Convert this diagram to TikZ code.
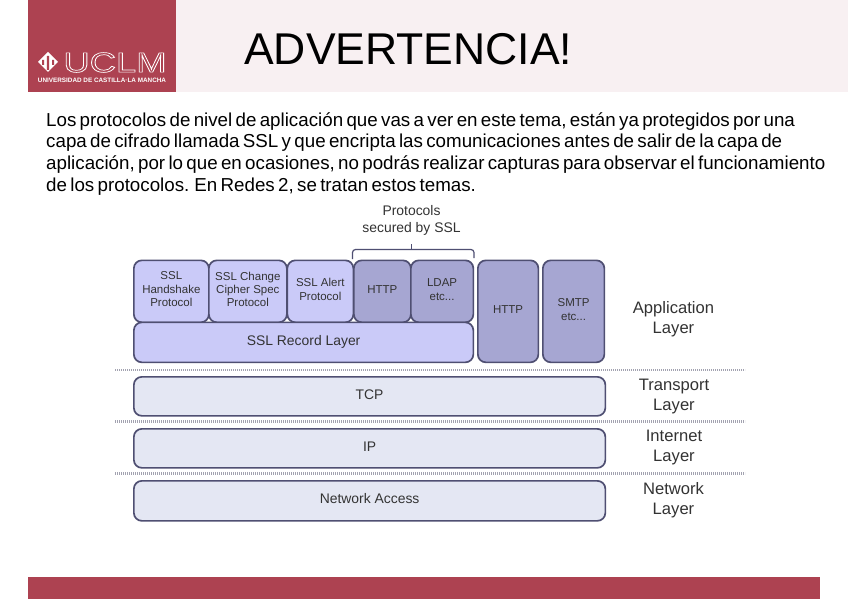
\documentclass[tikz,border=0pt]{standalone}
\usepackage{fontspec}
\usepackage{graphicx}
\setmainfont{Liberation Sans}
\definecolor{uclm}{HTML}{AD4251}
\definecolor{headbg}{HTML}{F8F0F2}
\definecolor{lightb}{HTML}{CACAF8}
\definecolor{darkb}{HTML}{A6A6D2}
\definecolor{paleb}{HTML}{E4E7F3}
\definecolor{edgeb}{HTML}{4F4F72}
\definecolor{dtxt}{HTML}{333333}
\definecolor{dotc}{HTML}{A2A2B0}
\tikzset{
 boxbase/.style={draw=edgeb,line width=1.7pt,rounded corners=8pt,text=dtxt,align=center,inner sep=0pt,font=\fontsize{11.5}{13.4}\selectfont,anchor=north west,text depth=4pt},
 sslbox/.style={boxbase,fill=lightb},
 appbox/.style={boxbase,fill=darkb},
 lowbox/.style={boxbase,fill=paleb},
 bigtxt/.style={font=\fontsize{13.9}{16}\selectfont},
 layerlabel/.style={text=dtxt,align=center,font=\fontsize{16.6}{20}\selectfont,inner sep=0pt},
 sep/.style={draw=dotc,line width=2.2pt,dash pattern=on 1.2pt off 0.8pt},
}
\begin{document}
\begin{tikzpicture}[x=1pt,y=-1pt]
\useasboundingbox (0,0) rectangle (848,599);
\fill[white] (0,0) rectangle (848,599);
\fill[headbg] (176,0) rectangle (848,92);
\fill[uclm] (28,0) rectangle (176,92);
\fill[uclm] (28,577) rectangle (820,599);
% logo
\node[text=white,inner sep=0pt,font=\fontsize{6.35}{7}\selectfont\bfseries] (logosub) at (102,80) {UNIVERSIDAD DE CASTILLA·LA MANCHA};
\fill[white] (48,52) -- (50,54) -- (58,62) -- (50,70) -- (48,72) -- (46,70) -- (38,62) -- (46,54) -- cycle;
\fill[uclm] (46.8,56) rectangle (49.2,70) (42,60) rectangle (44,65) (52,60) rectangle (54,65);
\node[inner sep=0pt,anchor=center] (logomark) at (115,62.5) {\scalebox{1.3}[1]{\special{pdf:code q 1 Tr 0.7 w 1 1 1 RG}\color{white}\fontsize{28}{28}\selectfont UCLM\special{pdf:code Q}}};
% title
\node[inner sep=0pt,anchor=west] (title) at (244,49) {\fontsize{44.5}{44.5}\selectfont ADVERTENCIA!};
% paragraph
\node[inner sep=0pt,anchor=north west,align=left,text width=800pt] (para) at (46,112) {\fontsize{18.75}{21.7}\selectfont Los protocolos de nivel de aplicación que vas a ver en este tema, están ya protegidos por una\\ capa de cifrado llamada SSL y que encripta las comunicaciones antes de salir de la capa de\\ aplicación, por lo que en ocasiones, no podrás realizar capturas para observar el funcionamiento\\ de los protocolos. En Redes 2, se tratan estos temas.\par};
% boxes
\node[sslbox,minimum width=75pt,minimum height=62pt] (hs) at (133,259.5) {SSL\\Handshake\\Protocol};
\node[sslbox,minimum width=78pt,minimum height=62pt] (ccs) at (208,259.5) {SSL Change\\Cipher Spec\\Protocol};
\node[sslbox,minimum width=66pt,minimum height=62pt] (alert) at (286.5,259.5) {SSL Alert\\Protocol};
\node[appbox,minimum width=57pt,minimum height=62pt] (http1) at (353,259.5) {HTTP};
\node[appbox,minimum width=62.5pt,minimum height=62pt] (ldap) at (410,259.5) {LDAP\\etc...};
\node[sslbox,bigtxt,minimum width=339.5pt,minimum height=40pt] (rec) at (133,321.5) {SSL Record Layer};
\node[appbox,minimum width=60.5pt,minimum height=102pt] (http2) at (477,259.5) {HTTP};
\node[appbox,minimum width=61.5pt,minimum height=102pt] (smtp) at (542,259.5) {SMTP\\etc...};
\node[lowbox,bigtxt,minimum width=471.5pt,minimum height=39pt] (tcp) at (133,376) {TCP};
\node[lowbox,bigtxt,minimum width=471.5pt,minimum height=39pt] (ip) at (133,428) {IP};
\node[lowbox,bigtxt,minimum width=471.5pt,minimum height=40pt] (na) at (133,480) {Network Access};
% separators
\coordinate (s1a) at (115,370); \coordinate (s1b) at (745,370);
\coordinate (s2a) at (115,421.5); \coordinate (s2b) at (745,421.5);
\coordinate (s3a) at (115,473.5); \coordinate (s3b) at (745,473.5);
\draw[sep] (s1a) -- (s1b);
\draw[sep] (s2a) -- (s2b);
\draw[sep] (s3a) -- (s3b);
% brace
\node[text=dtxt,align=center,inner sep=0pt,font=\fontsize{13.9}{16.5}\selectfont] (secured) at (411.5,220.5) {Protocols\\secured by SSL};
\coordinate (bl) at (352.5,259); \coordinate (br) at (474,258); \coordinate (bt) at (411.5,244);
\draw[edgeb,line width=1.2pt,rounded corners=3pt] (bl) |- (br |- 0,249.5) -- (br);
\draw[edgeb,line width=1.2pt] (bt) -- (bt |- 0,249.5);
% labels
\node[layerlabel] (lapp) at (673.5,319.5) {Application\\Layer};
\node[layerlabel] (ltr) at (674,396.5) {Transport\\Layer};
\node[layerlabel] (lint) at (674,447.5) {Internet\\Layer};
\node[layerlabel] (lnet) at (673.5,500.5) {Network\\Layer};
\end{tikzpicture}
\end{document}
